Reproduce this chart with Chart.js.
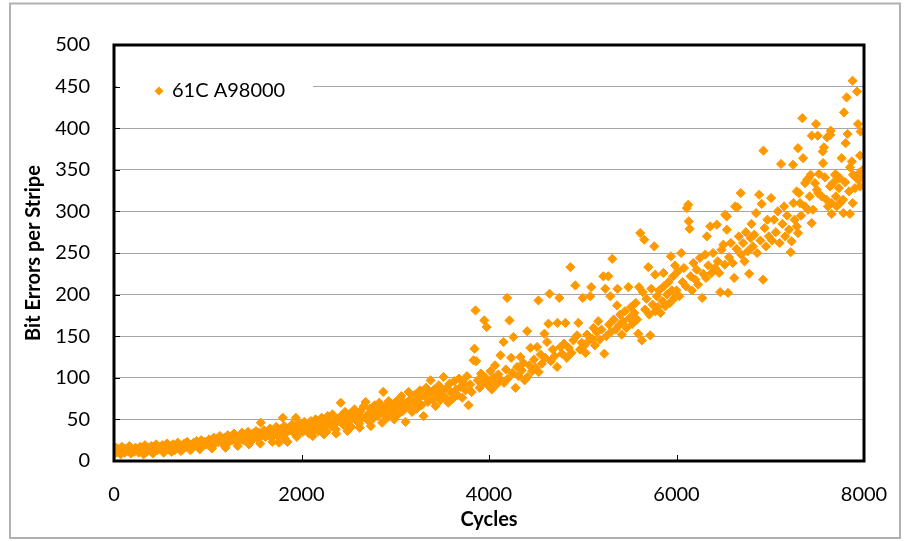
<!DOCTYPE html>
<html><head><meta charset="utf-8">
<script src="https://cdn.jsdelivr.net/npm/chart.js@4/dist/chart.umd.min.js"></script>
<style>html,body{margin:0;padding:0;background:#fff}#wrap{width:904px;height:541px;position:relative}</style>
</head><body><div id="wrap"><canvas id="c" width="904" height="541"></canvas></div>
<script>
const seriesName = '61C A98000';
const xTitle = 'Cycles';
const yTitle = 'Bit Errors per Stripe';
const xTicks = [0, 2000, 4000, 6000, 8000];
const yTicks = [0, 50, 100, 150, 200, 250, 300, 350, 400, 450, 500];

const pts0k = [[0,12],[10,9],[20,16],[35,11],[50,14],[70,8],[85,17],[100,13],[115,10],[130,15],[150,12],[165,18],[180,9],[200,14],[215,11],[230,16],[250,13],[265,10],[280,17],[300,15],[315,8],[330,19],[350,11],[365,16],[380,14],[400,18],[415,9],[430,15],[450,20],[465,13],[480,17],[500,15],[515,19],[530,10],[550,16],[565,21],[580,14],[600,18],[615,11],[630,20],[650,13],[665,17],[680,22],[700,16],[715,12],[730,14],[750,21],[765,17],[780,23],[800,18],[815,13],[830,16],[850,22],[865,19],[880,24],[900,17],[915,14],[930,25],[950,19],[965,23],[980,20]];
const pts1k = [[1000,22],[1015,26],[1030,19],[1045,15],[1050,25],[1065,28],[1080,21],[1100,27],[1115,23],[1130,30],[1150,24],[1165,20],[1180,28],[1190,16],[1200,26],[1215,31],[1230,23],[1250,29],[1265,25],[1280,33],[1300,27],[1315,22],[1320,18],[1330,30],[1350,28],[1365,34],[1380,25],[1400,31],[1415,27],[1430,35],[1440,20],[1450,29],[1465,24],[1480,33],[1500,30],[1515,36],[1530,27],[1550,34],[1560,21],[1566,46],[1580,31],[1600,37],[1615,29],[1630,35],[1650,32],[1665,39],[1680,28],[1690,23],[1700,36],[1715,33],[1730,41],[1745,30],[1760,22],[1775,38],[1790,35],[1800,52],[1815,42],[1820,27],[1830,33],[1850,23],[1865,40],[1880,37],[1900,44],[1915,34],[1930,41],[1940,52],[1950,29],[1960,38],[1980,45],[1990,36]];
const pts2k = [[2000,42],[2015,35],[2030,47],[2050,39],[2065,44],[2080,33],[2100,48],[2115,41],[2120,30],[2130,37],[2150,50],[2165,43],[2180,36],[2200,46],[2215,52],[2230,40],[2240,32],[2250,45],[2265,35],[2280,54],[2300,47],[2315,42],[2330,56],[2350,44],[2365,38],[2370,33],[2380,51],[2400,48],[2418,70],[2430,55],[2450,43],[2465,59],[2480,50],[2490,36],[2500,46],[2515,57],[2530,41],[2550,53],[2565,62],[2580,49],[2600,56],[2615,45],[2620,40],[2630,60],[2650,52],[2665,66],[2684,71],[2700,55],[2715,48],[2730,63],[2740,42],[2750,58],[2765,51],[2780,67],[2800,60],[2815,54],[2830,70],[2850,62],[2860,46],[2872,83],[2880,57],[2900,66],[2915,52],[2930,72],[2950,61],[2965,68],[2980,56],[2990,50]];
const pts3k = [[3000,63],[3015,72],[3030,56],[3050,68],[3065,78],[3080,60],[3100,70],[3110,47],[3130,65],[3142,83],[3160,74],[3180,59],[3200,69],[3215,80],[3230,63],[3250,75],[3265,85],[3280,67],[3302,54],[3315,78],[3330,88],[3350,71],[3365,82],[3377,97],[3400,74],[3415,86],[3430,66],[3450,80],[3465,91],[3480,73],[3500,84],[3515,101],[3530,77],[3550,88],[3565,70],[3580,93],[3600,82],[3615,75],[3630,96],[3650,86],[3665,79],[3680,99],[3700,89],[3715,76],[3730,94],[3750,85],[3765,102],[3781,67],[3800,92],[3815,83],[3835,121],[3845,135],[3856,181],[3863,120],[3880,97],[3900,88],[3915,105],[3930,93],[3950,169],[3965,100],[3975,161],[3990,91]];
const pts4k = [[4000,94],[4015,108],[4030,86],[4050,100],[4065,115],[4080,92],[4100,104],[4122,127],[4130,97],[4155,143],[4160,94],[4180,110],[4193,196],[4200,99],[4218,169],[4236,124],[4250,106],[4260,149],[4283,88],[4300,113],[4315,102],[4335,125],[4350,109],[4367,118],[4380,97],[4407,156],[4410,101],[4430,115],[4442,136],[4460,108],[4480,122],[4500,112],[4513,137],[4527,193],[4530,107],[4550,128],[4565,117],[4591,153],[4600,124],[4619,143],[4634,165],[4645,201],[4660,120],[4680,134],[4700,126],[4726,113],[4730,166],[4750,196],[4761,137],[4780,129],[4800,141],[4815,166],[4830,124],[4850,136],[4868,233],[4880,130],[4900,145],[4921,211],[4939,151],[4953,166],[4970,134],[4990,142]];
const pts5k = [[5000,196],[5010,138],[5030,130],[5045,152],[5060,144],[5080,198],[5090,209],[5100,147],[5115,160],[5130,139],[5150,155],[5165,168],[5180,146],[5200,158],[5220,222],[5230,129],[5240,207],[5250,150],[5273,222],[5280,164],[5294,198],[5300,155],[5315,243],[5330,170],[5350,158],[5365,187],[5370,207],[5385,163],[5400,176],[5415,152],[5430,168],[5450,180],[5465,160],[5486,209],[5500,172],[5515,185],[5530,165],[5550,178],[5565,190],[5580,170],[5592,153],[5600,209],[5613,274],[5631,145],[5640,203],[5656,266],[5665,182],[5680,195],[5699,233],[5710,176],[5720,151],[5731,207],[5745,188],[5763,258],[5773,224],[5775,180],[5790,198],[5800,185],[5815,205],[5830,178],[5850,192],[5860,226],[5865,210],[5880,186],[5900,200],[5915,215],[5930,190],[5940,246],[5950,205],[5965,222],[5980,196],[5985,235]];
const pts6k = [[6000,205],[6015,228],[6030,198],[6050,250],[6065,215],[6080,232],[6100,210],[6110,304],[6125,308],[6130,288],[6140,279],[6150,222],[6165,205],[6180,238],[6200,218],[6215,230],[6230,212],[6250,244],[6274,196],[6285,225],[6306,248],[6315,220],[6324,270],[6340,235],[6360,282],[6375,226],[6390,250],[6410,232],[6430,284],[6440,240],[6455,226],[6466,203],[6480,254],[6500,260],[6515,236],[6520,296],[6536,294],[6537,278],[6550,202],[6560,245],[6580,262],[6600,238],[6615,220],[6625,306],[6640,255],[6650,305],[6665,270],[6685,322],[6690,248],[6710,262],[6725,240],[6740,275],[6760,252],[6775,225],[6790,268],[6800,285],[6815,258],[6830,272],[6849,298],[6860,250],[6881,320],[6895,265],[6909,309],[6924,218],[6927,373],[6940,280],[6955,258],[6970,290],[6985,270]];
const pts7k = [[7009,316],[7020,265],[7040,290],[7060,275],[7080,300],[7100,262],[7115,357],[7130,285],[7148,306],[7160,270],[7180,295],[7200,278],[7218,251],[7228,264],[7243,356],[7247,310],[7260,290],[7282,282],[7282,324],[7296,274],[7296,376],[7307,322],[7318,310],[7330,295],[7342,412],[7350,364],[7371,306],[7371,334],[7392,338],[7403,302],[7410,340],[7420,318],[7430,344],[7442,286],[7442,391],[7456,302],[7477,334],[7488,405],[7496,326],[7506,391],[7510,322],[7520,345],[7548,318],[7559,372],[7563,358],[7573,377],[7584,341],[7601,314],[7605,389],[7615,306],[7637,330],[7640,392],[7645,397],[7655,297],[7655,310],[7669,334],[7690,344],[7700,318],[7705,344],[7708,306],[7723,340],[7733,328],[7743,310],[7743,340],[7761,364],[7776,314],[7780,298],[7786,419],[7800,335],[7804,382],[7815,437],[7825,393],[7840,324],[7850,353],[7850,297],[7870,360],[7878,457],[7880,310],[7882,344],[7904,328],[7921,340],[7925,444],[7936,405],[7937,338],[7947,346],[7957,367],[7960,330],[7964,396],[7985,350],[7990,340]];

const allPts = [].concat(pts0k, pts1k, pts2k, pts3k, pts4k, pts5k, pts6k, pts7k).map(p => ({x: p[0], y: p[1]}));

const ORANGE = '#ff9900';
const FONT = 'Lato, "Open Sans", sans-serif';

const decor = {
  id: 'decor',
  afterDatasetsDraw(chart) {
    const ctx = chart.ctx, a = chart.chartArea;
    const xs = chart.scales.x, ys = chart.scales.y;
    ctx.save();
    ctx.fillStyle = '#fff';
    ctx.fillRect(a.left + 3, 74, 196, 31);
    ctx.fillStyle = ORANGE;
    const lx = 159, ly = 91, r = 4.5;
    ctx.beginPath(); ctx.moveTo(lx, ly - r); ctx.lineTo(lx + r, ly); ctx.lineTo(lx, ly + r); ctx.lineTo(lx - r, ly); ctx.closePath(); ctx.fill();
    ctx.fillStyle = '#000'; ctx.font = '20px ' + FONT; ctx.textBaseline = 'middle'; ctx.textAlign = 'left';
    ctx.fillText(seriesName, 172, 91);
    ctx.strokeStyle = '#000'; ctx.lineWidth = 1;
    yTicks.forEach(v => { const y = Math.round(ys.getPixelForValue(v)) + 0.5; ctx.beginPath(); ctx.moveTo(a.left, y); ctx.lineTo(a.left + 6, y); ctx.stroke(); });
    xTicks.forEach(v => { const x = Math.round(xs.getPixelForValue(v)) + 0.5; ctx.beginPath(); ctx.moveTo(x, a.bottom); ctx.lineTo(x, a.bottom - 6); ctx.stroke(); });
    ctx.lineWidth = 3; ctx.strokeStyle = '#000';
    ctx.strokeRect(a.left, a.top, a.right - a.left, a.bottom - a.top);
    ctx.fillStyle = '#000'; ctx.font = 'bold 20px ' + FONT; ctx.textAlign = 'center'; ctx.textBaseline = 'middle';
    ctx.fillText(xTitle, (a.left + a.right) / 2, 520);
    ctx.translate(34, 253); ctx.rotate(-Math.PI / 2); ctx.fillText(yTitle, 0, 0);
    ctx.restore();
    ctx.save(); ctx.strokeStyle = '#b0b0b0'; ctx.lineWidth = 2;
    ctx.strokeRect(10, 3.5, 890, 534.5);
    ctx.restore();
  }
};

new Chart(document.getElementById('c'), {
  type: 'scatter',
  data: { datasets: [{ label: seriesName, data: allPts, pointStyle: 'rectRot', pointRadius: 4.6, pointBorderWidth: 1, backgroundColor: ORANGE, borderColor: ORANGE, pointHoverRadius: 4.6 }] },
  options: {
    responsive: false, animation: false, devicePixelRatio: 1,
    layout: { padding: { left: 10, top: 45, right: 40, bottom: 0 } },
    plugins: { legend: { display: false }, tooltip: { enabled: false } },
    scales: {
      x: { type: 'linear', min: 0, max: 8000,
        afterBuildTicks: s => { s.ticks = xTicks.map(v => ({ value: v })); },
        afterFit: s => { s.height = 80; s.paddingLeft = 0; s.paddingRight = 0; },
        grid: { display: false, drawTicks: false }, border: { display: false },
        ticks: { color: '#000', font: { family: FONT, size: 20 }, padding: 22, maxRotation: 0, callback: v => String(v) } },
      y: { type: 'linear', min: 0, max: 500,
        afterBuildTicks: s => { s.ticks = yTicks.map(v => ({ value: v })); },
        afterFit: s => { s.width = 104; s.paddingTop = 0; s.paddingBottom = 0; },
        grid: { color: '#a6a6a6', lineWidth: 1, drawTicks: false }, border: { display: false },
        ticks: { color: '#000', font: { family: FONT, size: 20 }, padding: 24, callback: v => String(v) } }
    }
  },
  plugins: [decor]
});
</script></body></html>
